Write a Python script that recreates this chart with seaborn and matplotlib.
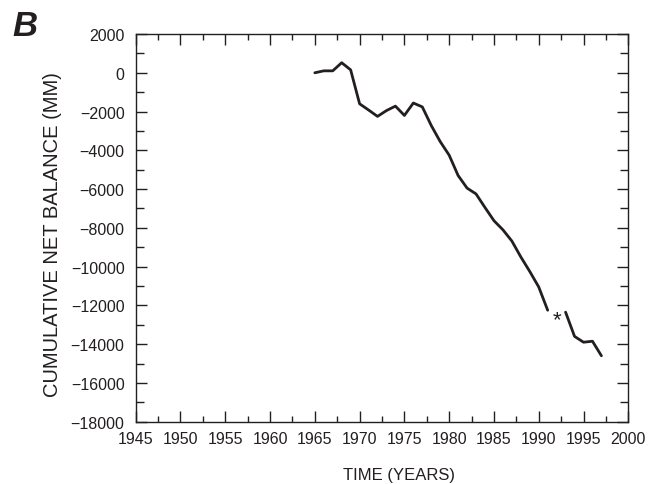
import matplotlib
matplotlib.use("Agg")
import matplotlib.pyplot as plt
from matplotlib.ticker import MultipleLocator
import seaborn as sns
import pandas as pd

# ---- data ----
years_a = [1965, 1966, 1967, 1968, 1969, 1970, 1971, 1972, 1973, 1974, 1975,
           1976, 1977, 1978, 1979, 1980, 1981, 1982, 1983, 1984, 1985, 1986,
           1987, 1988, 1989, 1990, 1991]
balance_a = [0, 100, 100, 520, 150, -1600, -1920, -2250, -1950, -1720, -2200,
             -1560, -1760, -2720, -3550, -4250, -5300, -5950, -6250, -6950,
             -7630, -8100, -8680, -9500, -10250, -11050, -12250]
years_b = [1993, 1994, 1995, 1996, 1997]
balance_b = [-12350, -13600, -13900, -13850, -14600]

gap_year = 1992
gap_value = -12750
gap_mark = "*"

panel_label = "B"
x_label = "TIME (YEARS)"
y_label = "CUMULATIVE NET BALANCE (MM)"
x_limits = (1945, 2000)
y_limits = (-18000, 2000)

df = pd.DataFrame({
    "year": years_a + years_b,
    "balance": balance_a + balance_b,
    "segment": ["a"] * len(years_a) + ["b"] * len(years_b),
})

sns.set_theme(style="ticks")
ink = "#231f20"
plt.rcParams["font.family"] = ["Liberation Sans", "DejaVu Sans"]
plt.rcParams["text.color"] = ink
plt.rcParams["axes.labelcolor"] = ink
plt.rcParams["xtick.color"] = ink
plt.rcParams["ytick.color"] = ink

fig = plt.figure(figsize=(6.61, 4.85), dpi=100)
ax = fig.add_axes([0.2053, 0.1285, 0.7452, 0.7993])

sns.lineplot(data=df, x="year", y="balance", units="segment", estimator=None,
             color=ink, linewidth=2.0, ax=ax, legend=False)

ax.text(gap_year, gap_value, gap_mark, ha="center", va="center",
        fontsize=16, color=ink)

ax.set_xlim(*x_limits)
ax.set_ylim(*y_limits)
ax.xaxis.set_major_locator(MultipleLocator(5))
ax.xaxis.set_minor_locator(MultipleLocator(2.5))
ax.yaxis.set_major_locator(MultipleLocator(2000))
ax.yaxis.set_minor_locator(MultipleLocator(1000))

for s in ax.spines.values():
    s.set_visible(True)
    s.set_linewidth(1.0)
    s.set_color(ink)

ax.tick_params(which="both", direction="in", top=True, right=True,
               width=1.0, labelsize=11.5)
ax.tick_params(axis="x", which="major", length=8, pad=6.5)
ax.tick_params(axis="x", which="minor", length=4.3)
ax.tick_params(axis="y", which="major", length=8, pad=8)
ax.tick_params(axis="y", which="minor", length=6)

ax.set_xlabel(x_label, fontsize=12)
ax.set_ylabel(y_label, fontsize=14.5)
ax.xaxis.label.set_va("center")
ax.xaxis.set_label_coords(0.534, -0.135)
ax.yaxis.label.set_va("center")
ax.yaxis.set_label_coords(-0.168, 0.484)

fig.text(0.018, 0.945, panel_label, fontsize=25, fontweight="bold",
         fontstyle="italic", ha="left", va="center", color=ink)

fig.savefig("out.png", dpi=100)
